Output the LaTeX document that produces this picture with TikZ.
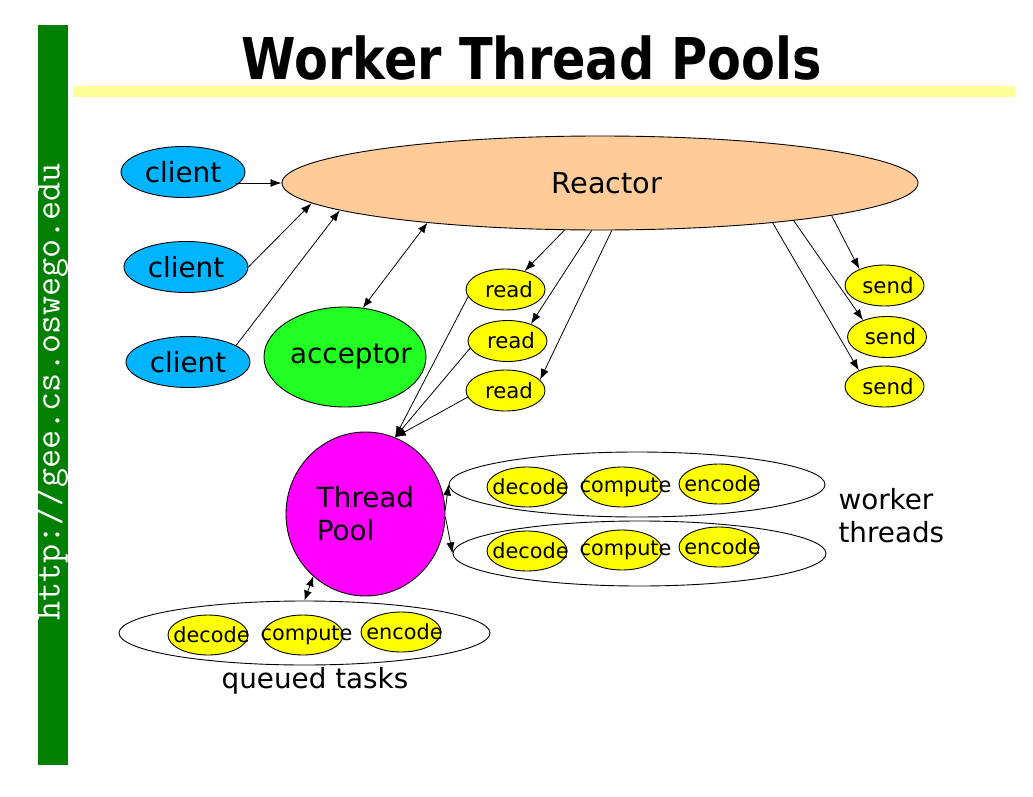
\documentclass[tikz,border=0pt]{standalone}
\usepackage{fontspec}
\setmainfont{DejaVu Sans}
\usetikzlibrary{shapes.geometric,arrows.meta}

\definecolor{clientblue}{RGB}{0,180,255}
\definecolor{reactorpeach}{RGB}{255,204,153}
\definecolor{acceptgreen}{RGB}{34,255,34}
\definecolor{poolmagenta}{RGB}{255,0,255}
\definecolor{taskyellow}{RGB}{255,255,0}
\definecolor{bargreen}{RGB}{0,128,0}
\definecolor{ruleyellow}{RGB}{255,255,153}

% zero-width label so the ellipse size is set only by its minimum size
\newcommand\tasklabel[1]{\makebox[0pt]{\hspace{7pt}#1}}

\begin{document}
\begin{tikzpicture}[x=1pt,y=-1pt,
  oval/.style={ellipse, draw=black, line width=0.9pt, inner sep=0pt},
  bigtext/.style={font=\fontsize{27.8}{33}\selectfont},
  smalltext/.style={font=\fontsize{20.8}{24}\selectfont},
  clientnode/.style={oval, fill=clientblue, minimum width=124pt, minimum height=51pt, bigtext},
  iobox/.style={oval, fill=taskyellow, minimum width=79pt, minimum height=41pt, font=\fontsize{21.3}{24}\selectfont},
  taskbox/.style={oval, fill=taskyellow, minimum width=80pt, minimum height=40pt, smalltext},
  groupbox/.style={oval, fill=none, minimum height=65pt},
  arr/.style={line width=0.8pt, -{Latex[length=11pt,width=8pt]}},
  dblarr/.style={line width=0.8pt, {Latex[length=10pt,width=8pt]}-{Latex[length=10pt,width=8pt]}},
]
\useasboundingbox (0,0) rectangle (1033,797);

% slide frame: side bar, rule and title
\fill[bargreen] (38,25) rectangle (68,765);
\fill[ruleyellow] (73,86) rectangle (1015,97);
\node[anchor=base, font=\bfseries\fontsize{57.6}{60}\selectfont] (title) at (532,80)
  {\scalebox{0.857}[1]{Worker Thread Pools}};
\node[rotate=90, text=white, font=\ttfamily\fontsize{37}{37}\selectfont] (url) at (51,392)
  {http://gee.cs.oswego.edu};

% reactor and its clients
\node[oval, fill=reactorpeach, minimum width=636pt, minimum height=94pt, font=\fontsize{28.8}{33}\selectfont] (reactor) at (600,183) {\makebox[0pt]{\hspace{14pt}Reactor}};
\node[clientnode] (c1) at (183,172) {\makebox[0pt]{client}};
\node[clientnode] (c2) at (186,267) {\makebox[0pt]{client}};
\node[clientnode] (c3) at (188,362) {\makebox[0pt]{client}};
\node[oval, fill=acceptgreen, minimum width=162pt, minimum height=100pt, bigtext] (acc) at (345,357) {\makebox[0pt]{\hspace{12pt}acceptor}};

% read and send handlers
\node[iobox] (r1) at (505.5,289.5) {\tasklabel{read}};
\node[iobox] (r2) at (507.5,341) {\tasklabel{read}};
\node[iobox] (r3) at (505.5,390.5) {\tasklabel{read}};
\node[iobox] (s1) at (884.5,285.5) {\tasklabel{send}};
\node[iobox] (s2) at (887,337) {\tasklabel{send}};
\node[iobox] (s3) at (884.5,386.5) {\tasklabel{send}};

% thread pool
\node[oval, fill=poolmagenta, minimum width=159pt, minimum height=164pt, bigtext, align=left] (tp) at (365.5,514) {Thread\\Pool};

% worker threads
\node[groupbox, minimum width=376pt] (w1) at (637,484.5) {};
\node[groupbox, minimum width=373pt] (w2) at (639.5,553.5) {};
\node[taskbox] (w1d) at (527,487) {\tasklabel{decode}};
\node[taskbox] (w1c) at (622,487) {\tasklabel{compute}};
\node[taskbox] (w1e) at (719,484) {\tasklabel{encode}};
\node[taskbox] (w2d) at (527,551) {\tasklabel{decode}};
\node[taskbox] (w2c) at (622,550) {\tasklabel{compute}};
\node[taskbox] (w2e) at (719,547) {\tasklabel{encode}};
\node[anchor=west, bigtext, align=left] (wlabel) at (835,516) {worker\\threads};

% queued tasks
\node[groupbox, minimum width=371pt, minimum height=64pt] (q) at (304.5,633) {};
\node[taskbox] (qd) at (208,635) {\tasklabel{decode}};
\node[taskbox] (qc) at (303,635) {\tasklabel{compute}};
\node[taskbox] (qe) at (401,632) {\tasklabel{encode}};
\node[bigtext] (qlabel) at (315,681) {queued tasks};

% connectors
\draw[arr] ([xshift=53pt,yshift=-11pt]c1.center) -- (reactor.west);
\draw[arr] (c2.east) -- (reactor.184);
\draw[arr] (c3.19) -- (reactor.186);
\draw[dblarr] (acc.70) -- (reactor.193);
\draw[arr] (reactor.233) -- (r1.44);
\draw[arr] (reactor.260) -- (r2.36);
\draw[arr] (reactor.284) -- (r3.17);
\draw[arr] (reactor.352) -- (s1.147);
\draw[arr] (reactor.349) -- (s2.145);
\draw[arr] (reactor.347) -- (s3.148);
\coordinate (tptop) at (tp.69);
\draw[arr] (r1.191) -- (tptop);
\draw[arr] (r2.191) -- (tptop);
\draw[arr] (r3.190) -- (tptop);
\draw[arr] (tp.3) -- (w1.west);
\draw[arr] (tp.358) -- (w2.west);
\draw[dblarr] (tp.230) -- (q.north);
\end{tikzpicture}
\end{document}
